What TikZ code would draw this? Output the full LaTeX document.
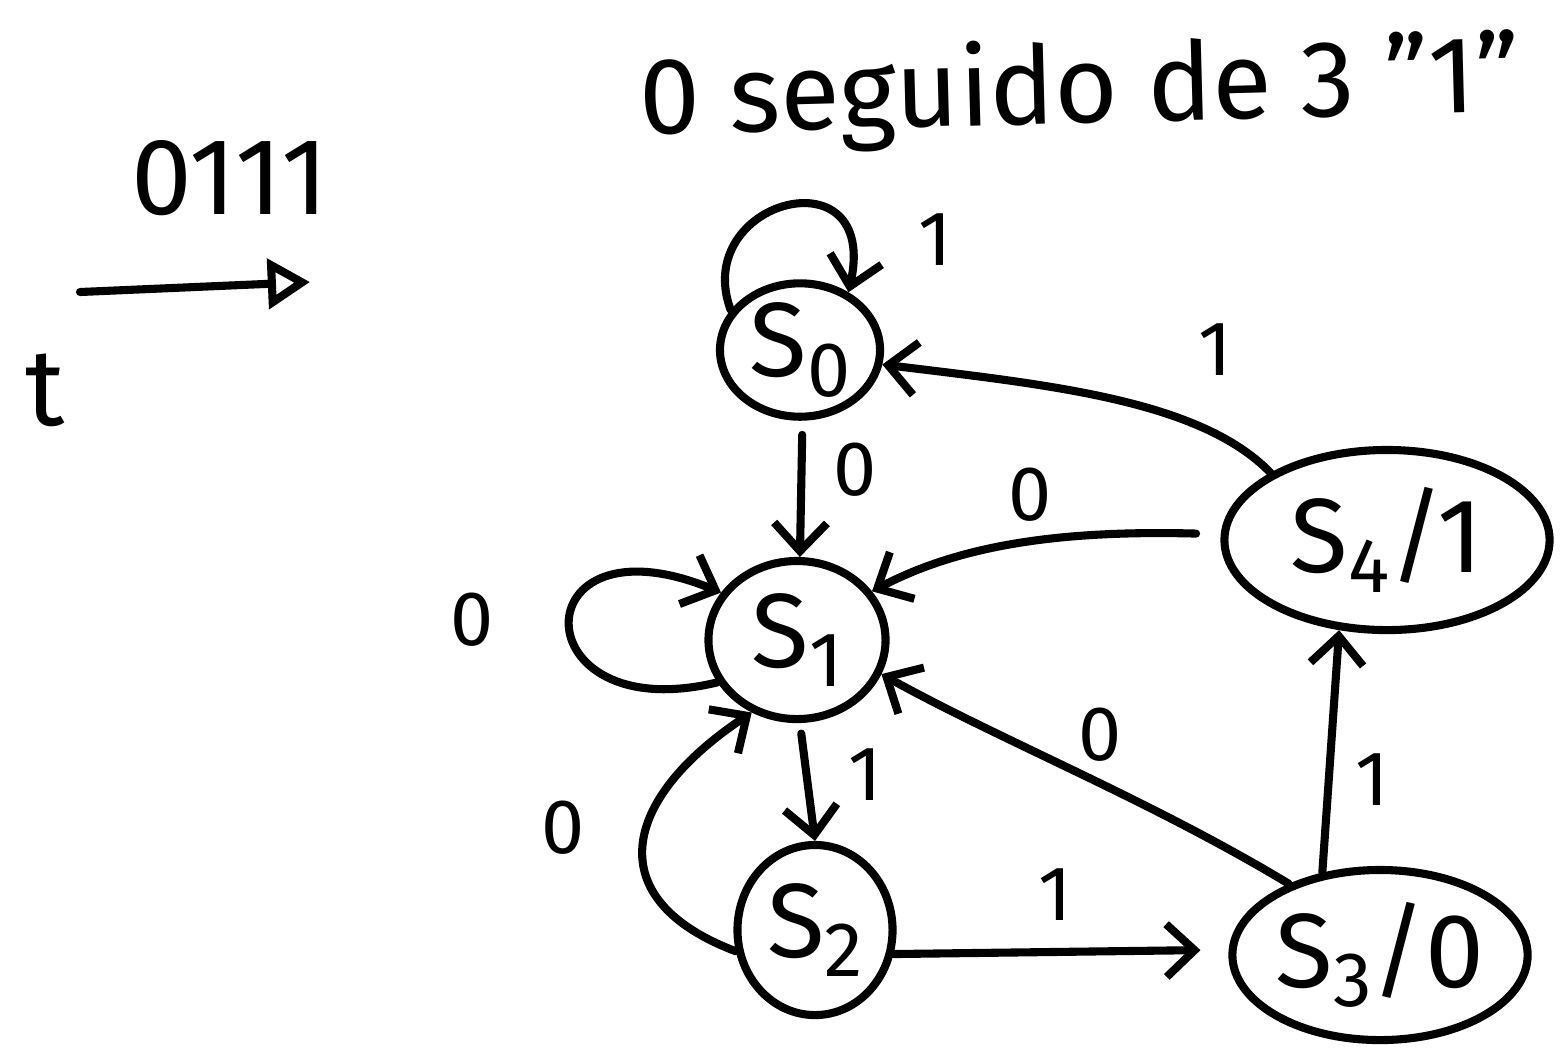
\documentclass[tikz,border=0pt]{standalone}
\usepackage{fontspec}
\setmainfont{Fira Sans}
\usetikzlibrary{arrows.meta,shapes.geometric}
\newcommand{\lowix}[1]{\raisebox{-0.35ex}{\fontsize{22}{24}\selectfont #1}}
\begin{document}
\begin{tikzpicture}[x=0.01cm,y=-0.01cm,
  ink/.style={line width=2.3pt,line cap=round,line join=round},
  state/.style={ink,draw,ellipse,inner sep=0pt,font=\fontsize{30}{32}\selectfont},
  arr/.style={ink,-{Straight Barb[length=8pt,width=15pt,line width=2.3pt]}},
  lbl/.style={font=\fontsize{22}{24}\selectfont},
  big/.style={font=\fontsize{31}{33}\selectfont}]
\useasboundingbox (0,0) rectangle (1561,1050);

% heading and time-line sketch
\node[big,rotate=1.5] (title) at (1080,92) {0 seguido de 3 "1"};
\node[big] (seq) at (230,178) {0111};
\coordinate (t0) at (80,292);
\coordinate (t1) at (310,282);
\draw[ink,-{Triangle[open,length=12pt,width=14pt,line width=2.3pt]}] (t0) -- (t1);
\node[big] (t) at (45,390) {t};

% states
\node[state,minimum width=1.60cm,minimum height=1.30cm] (S0) at (800,350) {S\lowix{0}};
\node[state,minimum width=1.77cm,minimum height=1.58cm] (S1) at (797,640) {S\lowix{1}};
\node[state,minimum width=1.55cm,minimum height=1.70cm] (S2) at (815,930) {S\lowix{2}};
\node[state,minimum width=2.60cm,minimum height=1.70cm] (S3) at (1380,955) {S\lowix{3}/0};
\node[state,minimum width=3.25cm,minimum height=1.80cm] (S4) at (1387,540) {S\lowix{4}/1};

% transitions
\draw[arr] (S0.150) .. controls (690,200) and (880,150) .. (S0.50);
\node[lbl] (l00) at (935,240) {1};

\draw[arr,shorten <=4pt] (S0.272) -- (S1.88);
\node[lbl] (l01) at (855,470) {0};

\draw[arr] (S1.208) .. controls (520,730) and (520,510) .. (S1.148);
\node[lbl] (l11) at (472,620) {0};

\draw[arr,shorten <=3pt] (S1.272) -- (S2.90);
\node[lbl] (l12) at (865,775) {1};

\draw[arr] (S2.195) .. controls (600,900) and (620,800) .. (S1.238);
\node[lbl] (l21) at (563,828) {0};

\draw[arr,shorten >=8pt] (S2.-17) -- (S3.178);
\node[lbl] (l23) at (1055,895) {1};

\draw[arr] (S3.142) .. controls (1150,800) and (1000,740) .. (S1.-22);
\node[lbl] (l31) at (1100,735) {0};

\draw[arr] (S3.125) -- (S4.-118);
\node[lbl] (l34) at (1372,780) {1};

\draw[arr,shorten <=7pt] (S4.178) .. controls (1060,530) and (960,545) .. (S1.33);
\node[lbl] (l41) at (1030,495) {0};

\draw[arr] (S4.150) .. controls (1200,400) and (1050,385) .. (S0.-10);
\node[lbl] (l40) at (1215,350) {1};
\end{tikzpicture}
\end{document}
